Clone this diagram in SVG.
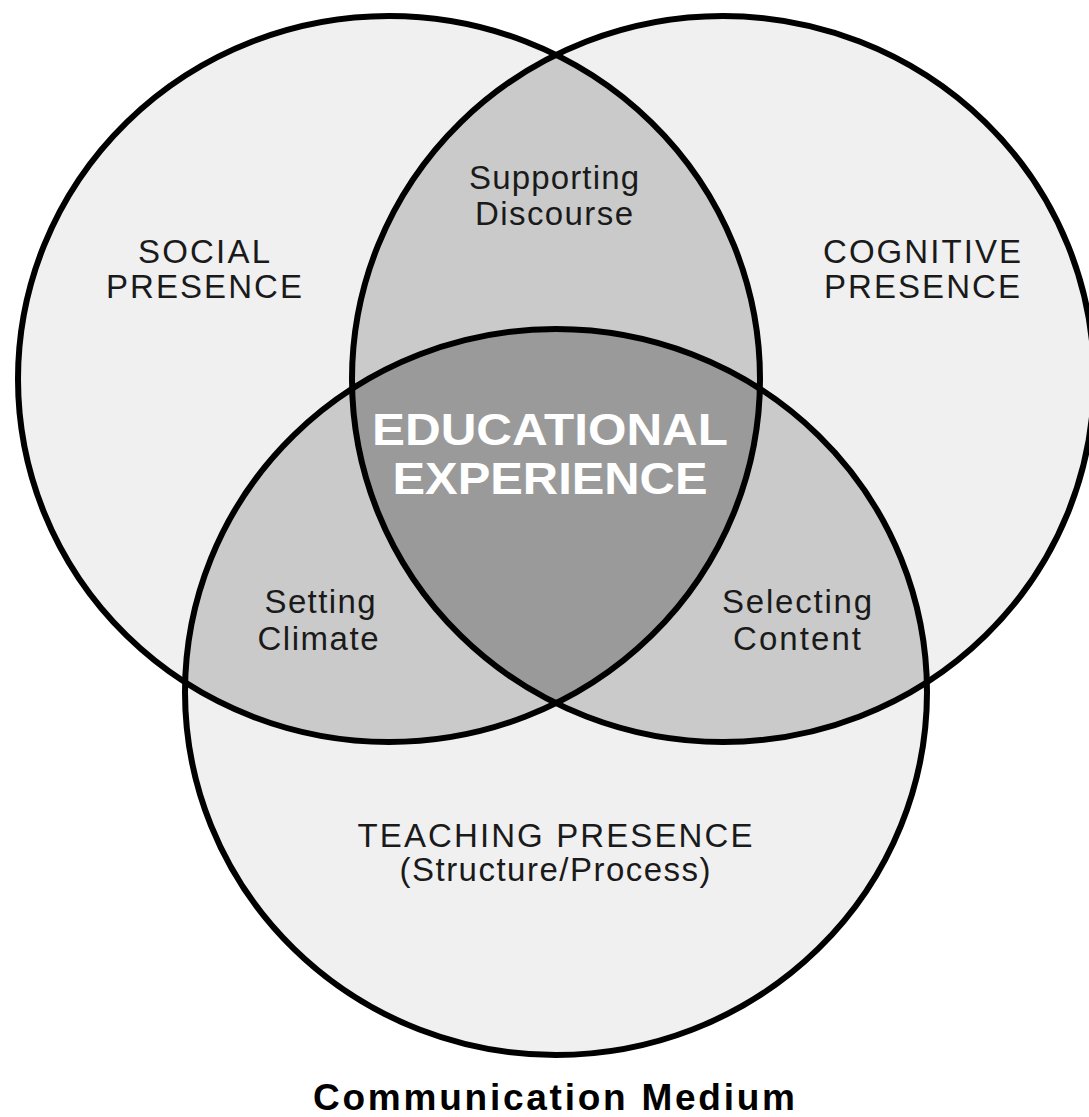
<svg xmlns="http://www.w3.org/2000/svg" width="1089" height="1117" viewBox="0 0 1089 1117">
<style>
.ring{fill:none;stroke:#000;stroke-width:6}
.lbl{font-family:"Liberation Sans",Arial,sans-serif;font-size:33px;fill:#1a1a1a;text-anchor:middle}
.core{font-family:"Liberation Sans",Arial,sans-serif;font-weight:bold;font-size:45px;fill:#fff;text-anchor:middle}
.foot{font-family:"Liberation Sans",Arial,sans-serif;font-weight:bold;font-size:37px;fill:#000;text-anchor:middle}
</style>
<defs>
<ellipse id="eS" cx="389" cy="379" rx="371" ry="363"/>
<ellipse id="eC" cx="723" cy="379" rx="371" ry="363"/>
<ellipse id="eT" cx="556" cy="692" rx="371" ry="363"/>
<clipPath id="cS"><use href="#eS"/></clipPath>
<clipPath id="cC"><use href="#eC"/></clipPath>
<clipPath id="cT"><use href="#eT"/></clipPath>
<clipPath id="cSC" clip-path="url(#cC)"><use href="#eS"/></clipPath>
</defs>
<rect width="1089" height="1117" fill="#fff"/>
<g id="fills">
<use href="#eS" fill="#f0f0f0"/>
<use href="#eC" fill="#f0f0f0"/>
<use href="#eT" fill="#f0f0f0"/>
<use href="#eC" fill="#cacaca" clip-path="url(#cS)"/>
<use href="#eT" fill="#cacaca" clip-path="url(#cS)"/>
<use href="#eT" fill="#cacaca" clip-path="url(#cC)"/>
<use href="#eT" fill="#9a9a9a" clip-path="url(#cSC)"/>
</g>
<g id="social">
<use href="#eS" class="ring"/>
<text class="lbl" x="204" y="263" textLength="132" lengthAdjust="spacing">SOCIAL</text>
<text class="lbl" x="204" y="298" textLength="196" lengthAdjust="spacing">PRESENCE</text>
</g>
<g id="cognitive">
<use href="#eC" class="ring"/>
<text class="lbl" x="922" y="263" textLength="198" lengthAdjust="spacing">COGNITIVE</text>
<text class="lbl" x="922" y="298" textLength="196" lengthAdjust="spacing">PRESENCE</text>
</g>
<g id="teaching">
<use href="#eT" class="ring"/>
<text class="lbl" x="555" y="847" textLength="395" lengthAdjust="spacing">TEACHING PRESENCE</text>
<text class="lbl" x="555" y="881" textLength="311" lengthAdjust="spacing">(Structure/Process)</text>
</g>
<g id="supporting-discourse">
<text class="lbl" x="554" y="189" textLength="170" lengthAdjust="spacing">Supporting</text>
<text class="lbl" x="554" y="225" textLength="158" lengthAdjust="spacing">Discourse</text>
</g>
<g id="setting-climate">
<text class="lbl" x="320" y="613" textLength="111" lengthAdjust="spacing">Setting</text>
<text class="lbl" x="318" y="650" textLength="121" lengthAdjust="spacing">Climate</text>
</g>
<g id="selecting-content">
<text class="lbl" x="797" y="613" textLength="150" lengthAdjust="spacing">Selecting</text>
<text class="lbl" x="797" y="650" textLength="128" lengthAdjust="spacing">Content</text>
</g>
<g id="educational-experience">
<text class="core" x="550" y="445" textLength="356" lengthAdjust="spacingAndGlyphs">EDUCATIONAL</text>
<text class="core" x="550" y="494" textLength="315" lengthAdjust="spacingAndGlyphs">EXPERIENCE</text>
</g>
<g id="communication-medium">
<text class="foot" x="554" y="1110" textLength="482" lengthAdjust="spacing">Communication Medium</text>
</g>
<g id="connectors"></g>
</svg>
